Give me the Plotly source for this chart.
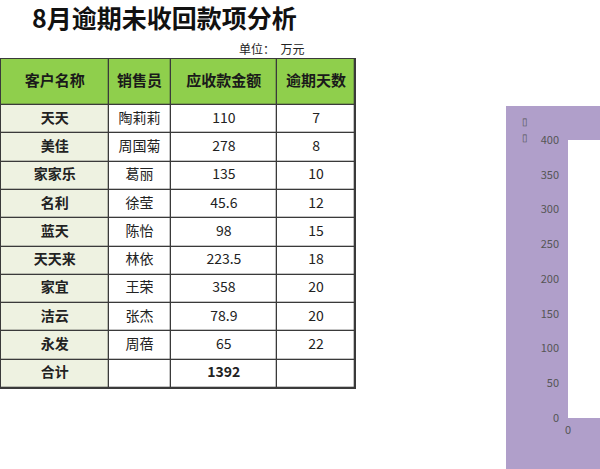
import plotly.graph_objects as go

# ---- table data ----
headers = ["客户名称", "销售员", "应收款金额", "逾期天数"]
customers = ["天天", "美佳", "家家乐", "名利", "蓝天", "天天来", "家宜", "洁云", "永发"]
sales = ["陶莉莉", "周国菊", "葛丽", "徐莹", "陈怡", "林依", "王荣", "张杰", "周蓓"]
amounts = [110, 278, 135, 45.6, 98, 223.5, 358, 78.9, 65]
days = [7, 8, 10, 12, 15, 18, 20, 20, 22]
total_label = "合计"
total_amount = 1392

W, H = 600, 469
FONT = "Noto Sans CJK SC"
LINE = "#3a3a3a"

# table geometry (pixels inside the table box)
col_edges = [0, 108, 170, 277, 355]
header_h = 46
row_h = 28.3

col1 = ["<b>%s</b>" % c for c in customers] + ["<b>%s</b>" % total_label]
col2 = sales + [""]
col3 = ["%g" % a for a in amounts] + ["<b>%g</b>" % total_amount]
col4 = [str(d) for d in days] + [""]
columns = [col1, col2, col3, col4]
n = len(col1)

row_edges = [0, header_h] + [header_h + row_h * (i + 1) for i in range(n)]
table_h = row_edges[-1]

# fill index: 0 header green, 1 first column beige, 2 white
z = [[0] * 4] + [[1, 2, 2, 2] for _ in range(n)]

fig = go.Figure()

# cell fills (gaps let the dark border rect show through)
fig.add_trace(go.Heatmap(
    x=col_edges, y=row_edges, z=z,
    zmin=0, zmax=2, showscale=False, hoverinfo="skip",
    colorscale=[[0, "#8fcf4c"], [0.5, "#eef2e1"], [1, "#ffffff"]],
    xgap=1.3, ygap=1.3,
    xaxis="x2", yaxis="y2",
))

xc = [(col_edges[i] + col_edges[i + 1]) / 2 for i in range(4)]
yc = [(row_edges[i] + row_edges[i + 1]) / 2 for i in range(n + 1)]

fig.add_trace(go.Scatter(
    x=xc, y=[yc[0]] * 4, mode="text",
    text=["<b>%s</b>" % h for h in headers],
    textfont=dict(family=FONT, size=15, color="#1a1a1a"),
    hoverinfo="skip", xaxis="x2", yaxis="y2",
))
bx, by, bt = [], [], []
for ci, col in enumerate(columns):
    for ri, val in enumerate(col):
        bx.append(xc[ci])
        by.append(yc[ri + 1])
        bt.append(val)
fig.add_trace(go.Scatter(
    x=bx, y=by, mode="text", text=bt,
    textfont=dict(family=FONT, size=14, color="#222222"),
    hoverinfo="skip", xaxis="x2", yaxis="y2",
))

# partially visible chart on the right: amount vs overdue days
fig.add_trace(go.Scatter(
    x=days, y=amounts, mode="markers",
    marker=dict(color="#4472c4", size=7),
    cliponaxis=True,
))

# dark rect behind the table cells -> borders
fig.add_shape(type="rect", xref="x2", yref="y2",
              x0=-1, x1=col_edges[-1] + 1, y0=-1, y1=table_h + 1,
              fillcolor=LINE, line_width=0, layer="below")

# purple chart area background, white plot area on top of it
fig.add_shape(type="rect", xref="paper", yref="paper",
              x0=506 / W, x1=1.0, y0=0, y1=1 - 106 / H,
              fillcolor="#b09fca", line_width=0, layer="below")
fig.add_shape(type="rect", xref="x domain", yref="y domain",
              x0=0, x1=1, y0=0, y1=1,
              fillcolor="white", line_width=0, layer="below")

fig.update_layout(
    xaxis=dict(domain=[568 / W, 1.0], range=[0, 1.5], tickvals=[0],
               showgrid=False, zeroline=False, showline=False, automargin=False,
               tickfont=dict(family=FONT, size=11, color="#555555"),
               ticklabelstandoff=4),
    yaxis=dict(domain=[(H - 418) / H, (H - 140) / H], range=[0, 400], dtick=50,
               showgrid=False, zeroline=False, showline=False, automargin=False,
               tickfont=dict(family=FONT, size=11, color="#555555"),
               ticklabelstandoff=8),
    xaxis2=dict(domain=[0, 356 / W], range=[-1, col_edges[-1] + 1],
                visible=False, anchor="y2"),
    yaxis2=dict(domain=[1 - (59 + table_h + 1) / H, 1 - 58 / H],
                range=[table_h + 1, -1], visible=False, anchor="x2"),
)

# title & unit
fig.add_annotation(text="<b>8月逾期未收回款项分析</b>", xref="paper", yref="paper",
                   x=164 / W, y=1 - 17 / H, xanchor="center", yanchor="middle",
                   showarrow=False,
                   font=dict(family=FONT, size=25, color="#111111"))
fig.add_annotation(text="单位：  万元", xref="paper", yref="paper",
                   x=271 / W, y=1 - 48 / H, xanchor="center", yanchor="middle",
                   showarrow=False,
                   font=dict(family=FONT, size=12, color="#222222"))
# missing-glyph axis title (two boxes)
for gy in [121, 137]:
    fig.add_annotation(text="▯", xref="paper", yref="paper",
                       x=525 / W, y=1 - gy / H, xanchor="center", yanchor="middle",
                       showarrow=False,
                       font=dict(family=FONT, size=10, color="#555555"))

fig.update_layout(
    width=W, height=H,
    margin=dict(l=0, r=0, t=0, b=0),
    paper_bgcolor="white",
    plot_bgcolor="white",
    showlegend=False,
)

fig.write_html("out.html", config={"displayModeBar": False},
               post_script="document.body.style.margin='0';")
